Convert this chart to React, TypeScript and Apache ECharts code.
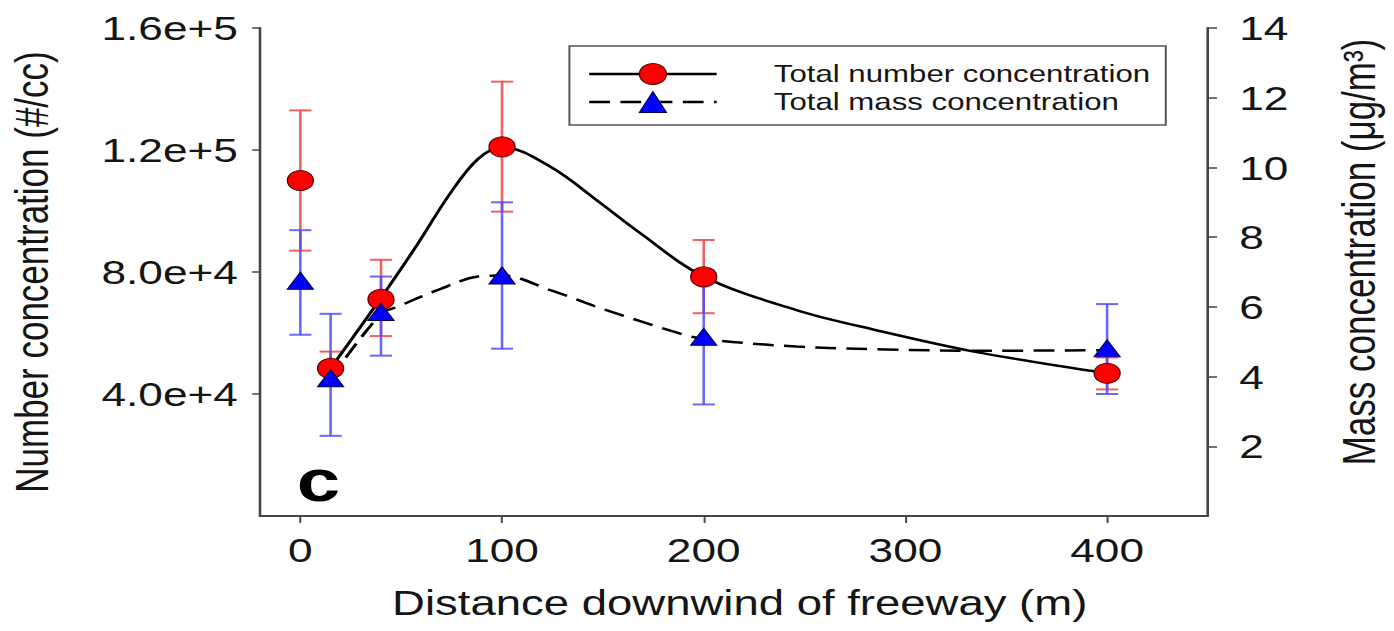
import React, { useEffect, useRef } from "react";
import * as echarts from "echarts";

// The reference figure is stretched horizontally; draw at natural proportions and stretch the div.
const STRETCH = 1.3;
const PAGE_W = 1394;
const PAGE_H = 631;
const CHART_W = PAGE_W / STRETCH;

// Measured data (distance in m)
const distances = [0, 15, 40, 100, 200, 400];
const numberConc = [110000, 48400, 71000, 121000, 78400, 46800];
const numberLow = [87000, 43000, 59000, 99800, 66500, 41500];
const numberHigh = [133000, 53900, 84000, 142400, 90500, 52000];
const massConc = [6.75, 3.95, 5.85, 6.9, 5.14, 4.81];
const massLow = [5.2, 2.3, 4.6, 4.8, 3.2, 3.5];
const massHigh = [8.2, 5.8, 6.87, 9.0, 7.05, 6.08];

// Fitted curves, points
const numberFitX = [15, 40, 58, 74, 88, 100, 124, 149, 168, 200, 246, 285, 334, 400];
const numberFitY = [48400, 71500, 89000, 105500, 117000, 121000, 114500, 102500, 93000, 78500, 67500, 61000, 53900, 46800];
const massFitX = [15, 40, 48, 68, 88, 100, 124, 149, 188, 200, 246, 290, 334, 400];
const massFitY = [3.95, 5.8, 6.0, 6.48, 6.87, 6.9, 6.48, 5.96, 5.24, 5.08, 4.86, 4.78, 4.74, 4.76];

// Ticks
const xTickValues = [0, 100, 200, 300, 400];
const leftTickValues = [40000, 80000, 120000, 160000];
const leftTickLabels = ["4.0e+4", "8.0e+4", "1.2e+5", "1.6e+5"];
const rightTickValues = [2, 4, 6, 8, 10, 12, 14];

const seriesNames = ["Total number concentration", "Total mass concentration"];

const FONT = "Liberation Sans, Arial, sans-serif";
const AXIS_COLOR = "#454545";
const TEXT_COLOR = "#151515";

function zip(a: number[], b: number[]) {
  return a.map((v, i) => [v, b[i]]);
}

function errorBar(color: string, capHalf: number) {
  return (_params: any, api: any) => {
    const x = api.value(0);
    const lo = api.coord([x, api.value(1)]);
    const hi = api.coord([x, api.value(2)]);
    const style = { stroke: color, lineWidth: 2 };
    return {
      type: "group",
      children: [
        { type: "line", shape: { x1: hi[0], y1: hi[1], x2: lo[0], y2: lo[1] }, style },
        { type: "line", shape: { x1: hi[0] - capHalf, y1: hi[1], x2: hi[0] + capHalf, y2: hi[1] }, style },
        { type: "line", shape: { x1: lo[0] - capHalf, y1: lo[1], x2: lo[0] + capHalf, y2: lo[1] }, style },
      ],
    };
  };
}

function buildOption() {
  const axisLabelBase = { fontSize: 34, color: TEXT_COLOR, fontFamily: FONT };
  return {
    animation: false,
    backgroundColor: "#ffffff",
    grid: { left: 200, right: CHART_W - 929.2, top: 28, bottom: 115, containLabel: false },
    xAxis: {
      type: "value",
      min: -20,
      max: 450,
      axisLine: { show: true, onZero: false, lineStyle: { color: AXIS_COLOR, width: 2 } },
      axisTick: { show: true, customValues: xTickValues, length: 7, lineStyle: { color: AXIS_COLOR, width: 1.5 } },
      axisLabel: { ...axisLabelBase, customValues: xTickValues, margin: 17 },
      splitLine: { show: false },
    },
    yAxis: [
      {
        type: "value",
        position: "left",
        min: 0,
        max: 160000,
        axisLine: { show: true, onZero: false, lineStyle: { color: AXIS_COLOR, width: 2 } },
        axisTick: { show: true, customValues: leftTickValues, length: 6, lineStyle: { color: AXIS_COLOR, width: 1.5 } },
        axisLabel: {
          ...axisLabelBase,
          customValues: leftTickValues,
          margin: 17,
          formatter: (v: number) => leftTickLabels[leftTickValues.indexOf(v)] ?? "",
        },
        splitLine: { show: false },
      },
      {
        type: "value",
        position: "right",
        min: 0,
        max: 14,
        axisLine: { show: true, onZero: false, lineStyle: { color: AXIS_COLOR, width: 2 } },
        axisTick: { show: true, customValues: rightTickValues, length: 7, lineStyle: { color: AXIS_COLOR, width: 1.5 } },
        axisLabel: { ...axisLabelBase, customValues: rightTickValues, margin: 24 },
        splitLine: { show: false },
      },
    ],
    legend: {
      orient: "vertical",
      left: 438,
      top: 46,
      padding: [16, 12, 11, 14],
      itemWidth: 98,
      itemHeight: 26,
      itemGap: 4,
      borderColor: "#555",
      borderWidth: 1.5,
      backgroundColor: "#fff",
      selectedMode: false,
      textStyle: { fontSize: 24, color: TEXT_COLOR, fontFamily: FONT, padding: [0, 0, 0, 39] },
      data: [
        {
          name: seriesNames[0],
          itemStyle: { color: "#ff0000", borderColor: "#5a0000", borderWidth: 1 },
          lineStyle: { color: "#000", width: 2.5, type: "solid" },
        },
        {
          name: seriesNames[1],
          itemStyle: { color: "#0000ff", borderColor: "#000050", borderWidth: 1 },
          lineStyle: { color: "#000", width: 2.5, type: [16, 8] },
        },
      ],
    },
    graphic: [
      {
        type: "text",
        x: 25,
        y: 272,
        rotation: Math.PI / 2,
        style: {
          text: "Number concentration (#/cc)",
          fontSize: 35,
          fontFamily: FONT,
          fill: TEXT_COLOR,
          align: "center",
          verticalAlign: "middle",
        },
      },
      {
        type: "text",
        x: 1046,
        y: 252,
        rotation: Math.PI / 2,
        style: {
          text: "Mass concentration (μg/m³)",
          fontSize: 35,
          fontFamily: FONT,
          fill: TEXT_COLOR,
          align: "center",
          verticalAlign: "middle",
        },
      },
      {
        type: "text",
        x: 569,
        y: 603,
        style: {
          text: "Distance downwind of freeway (m)",
          fontSize: 35,
          fontFamily: FONT,
          fill: TEXT_COLOR,
          align: "center",
          verticalAlign: "middle",
        },
      },
      {
        type: "text",
        x: 245,
        y: 480,
        style: {
          text: "c",
          fontSize: 60,
          fontWeight: "bold",
          fontFamily: FONT,
          fill: "#000",
          align: "center",
          verticalAlign: "middle",
        },
      },
    ],
    series: [
      {
        name: "Number concentration error",
        type: "custom",
        xAxisIndex: 0,
        yAxisIndex: 0,
        renderItem: errorBar("rgba(240,70,70,0.85)", 8.5),
        encode: { x: 0, y: [1, 2] },
        data: distances.map((d, i) => [d, numberLow[i], numberHigh[i]]),
        z: 1,
      },
      {
        name: "Mass concentration error",
        type: "custom",
        xAxisIndex: 0,
        yAxisIndex: 1,
        renderItem: errorBar("rgba(80,80,245,0.85)", 8.5),
        encode: { x: 0, y: [1, 2] },
        data: distances.map((d, i) => [d, massLow[i], massHigh[i]]),
        z: 1,
      },
      {
        name: seriesNames[0],
        type: "line",
        yAxisIndex: 0,
        smooth: 0.35,
        showSymbol: false,
        symbol: "circle",
        symbolSize: 20,
        itemStyle: { color: "#ff0000", borderColor: "#5a0000", borderWidth: 1 },
        lineStyle: { color: "#000", width: 2.5, type: "solid" },
        data: zip(numberFitX, numberFitY),
        z: 2,
      },
      {
        name: seriesNames[1],
        type: "line",
        yAxisIndex: 1,
        smooth: 0.35,
        showSymbol: false,
        symbol: "triangle",
        symbolSize: 20,
        itemStyle: { color: "#0000ff", borderColor: "#000050", borderWidth: 1 },
        lineStyle: { color: "#000", width: 2.5, type: [16, 8] },
        data: zip(massFitX, massFitY),
        z: 2,
      },
      {
        name: "Number concentration points",
        type: "scatter",
        yAxisIndex: 0,
        symbol: "circle",
        symbolSize: 20,
        itemStyle: { color: "#ff0000", borderColor: "#5a0000", borderWidth: 1, opacity: 1 },
        data: zip(distances, numberConc),
        z: 3,
      },
      {
        name: "Mass concentration points",
        type: "scatter",
        yAxisIndex: 1,
        symbol: "triangle",
        symbolSize: [20, 17],
        itemStyle: { color: "#0000ff", borderColor: "#000050", borderWidth: 1, opacity: 1 },
        data: zip(distances, massConc),
        z: 4,
      },
    ],
  };
}

export default function App() {
  const ref = useRef<HTMLDivElement>(null);
  useEffect(() => {
    if (!ref.current) return;
    const chart = echarts.init(ref.current, null, { renderer: "svg", width: CHART_W, height: PAGE_H });
    chart.setOption(buildOption() as any);
    return () => chart.dispose();
  }, []);
  return (
    <div
      style={{
        position: "fixed",
        left: 0,
        top: 0,
        width: PAGE_W,
        height: PAGE_H,
        overflow: "hidden",
        background: "#ffffff",
      }}
    >
      <div
        ref={ref}
        style={{
          width: CHART_W,
          height: PAGE_H,
          transform: `scaleX(${STRETCH})`,
          transformOrigin: "0 0",
        }}
      />
    </div>
  );
}
